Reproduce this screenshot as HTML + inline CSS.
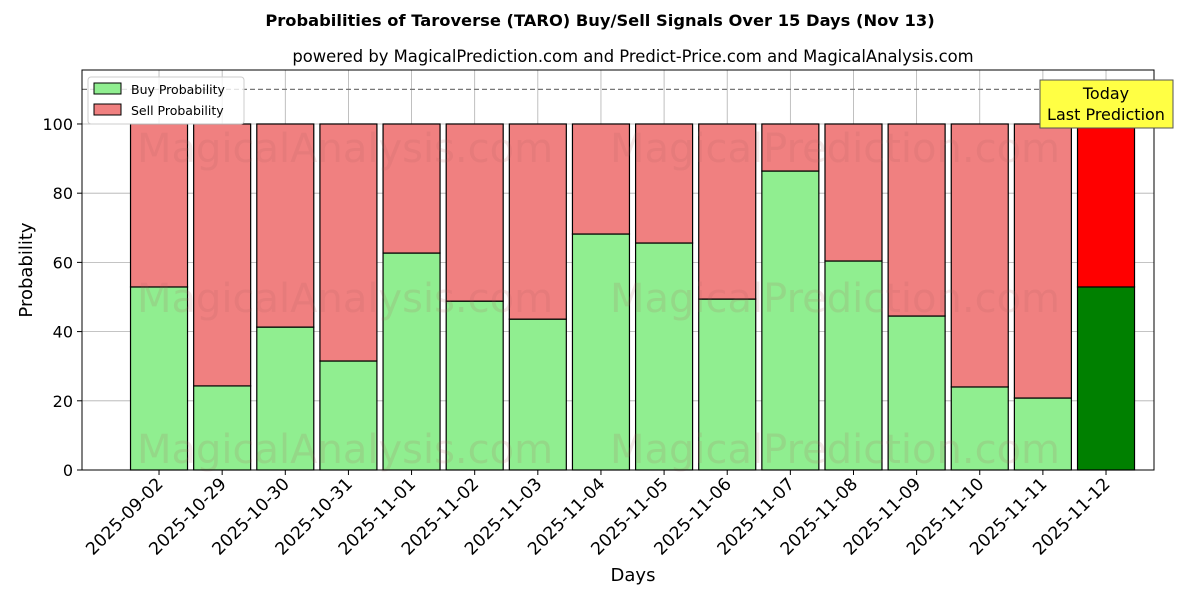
<!DOCTYPE html>
<html><head><meta charset="utf-8"><style>
body{margin:0;background:#fff;font-family:"DejaVu Sans","Liberation Sans",sans-serif}
svg text{font-family:"DejaVu Sans","Liberation Sans",sans-serif}
</style></head><body>
<svg id="c" width="1200" height="600" xmlns="http://www.w3.org/2000/svg"></svg>
<script>
const categories=["2025-09-02","2025-10-29","2025-10-30","2025-10-31","2025-11-01","2025-11-02","2025-11-03","2025-11-04","2025-11-05","2025-11-06","2025-11-07","2025-11-08","2025-11-09","2025-11-10","2025-11-11","2025-11-12"];
const buyValues=[52.9,24.3,41.3,31.5,62.7,48.8,43.6,68.2,65.6,49.4,86.4,60.4,44.5,24.0,20.8,52.9];
const yTicks=[0,20,40,60,80,100];
const NS="http://www.w3.org/2000/svg";
const svg=document.getElementById('c');
const L=82,R=1154,T=70,B=470;
const yMax=115.6;
function y(v){return B-(B-T)*v/yMax;}
function x(i){return L+(i+1.22)*(R-L)/16.98;}
const bw=57;
function el(tag,attrs,parent){const e=document.createElementNS(NS,tag);for(const k in attrs)e.setAttribute(k,attrs[k]);(parent||svg).appendChild(e);return e;}
function txt(s,attrs){const e=el('text',attrs);e.textContent=s;return e;}
// grid
yTicks.forEach(v=>{const g=el('line',{x1:L,x2:R,y1:y(v),y2:y(v),stroke:'#b0b0b0','stroke-width':0.8});

});
categories.forEach((c,i)=>{const g=el('line',{x1:x(i),x2:x(i),y1:T,y2:B,stroke:'#b0b0b0','stroke-width':0.8});

});
// bars
categories.forEach((c,i)=>{const last=i===categories.length-1;const b=buyValues[i];
const r1=el('rect',{x:x(i)-bw/2,y:y(b),width:bw,height:y(0)-y(b),fill:last?'#008000':'#90ee90',stroke:'#000','stroke-width':1.2});


const r2=el('rect',{x:x(i)-bw/2,y:y(100),width:bw,height:y(b)-y(100),fill:last?'#ff0000':'#f08080',stroke:'#000','stroke-width':1.2});


const t=txt(c,{x:0,y:0,'font-size':17.3,'text-anchor':'end',transform:`translate(${x(i)+5},${B+15}) rotate(-45)`,fill:'#000'});


el('line',{x1:x(i),x2:x(i),y1:B,y2:B+5,stroke:'#000'});
});
// watermarks on top
[[345,148],[835,148],[345,298],[835,298],[345,449],[835,449]].forEach((p,k)=>{const t=txt(k%2?'MagicalPrediction.com':'MagicalAnalysis.com',{x:p[0],y:p[1]+14,'font-size':40,fill:'#b06060','fill-opacity':0.15,'text-anchor':'middle'});

});
// dashed line
const d=el('line',{x1:L,x2:R,y1:y(110),y2:y(110),stroke:'#777','stroke-width':1.3,'stroke-dasharray':'5,3'});


// y ticks
yTicks.forEach(v=>{el('line',{x1:L-5,x2:L,y1:y(v),y2:y(v),stroke:'#000'});
const t=txt(String(v),{x:L-9,y:y(v)+6,'font-size':16,'text-anchor':'end'});

});
// frame
const f=el('rect',{x:L,y:T,width:R-L,height:B-T,fill:'none',stroke:'#000','stroke-width':1});


// titles
let t;
t=txt('Probabilities of Taroverse (TARO) Buy/Sell Signals Over 15 Days (Nov 13)',{x:600,y:26,'font-size':16.3,'font-weight':'bold','text-anchor':'middle'});


t=txt('powered by MagicalPrediction.com and Predict-Price.com and MagicalAnalysis.com',{x:633,y:62,'font-size':16.4,'text-anchor':'middle'});


t=txt('Days',{x:633,y:581,'font-size':18,'text-anchor':'middle'});


t=txt('Probability',{x:0,y:0,'font-size':18,'text-anchor':'middle',transform:'translate(32,270) rotate(-90)'});


// today box
const tb=el('rect',{x:1040,y:80,width:133,height:48,fill:'#ffff44',stroke:'#555','stroke-width':1});


txt('Today',{x:1106,y:99,'font-size':16,'text-anchor':'middle'});
txt('Last Prediction',{x:1106,y:120,'font-size':16,'text-anchor':'middle'});
// legend
const lg=el('rect',{x:88,y:77,width:156,height:47,fill:'#fff','fill-opacity':0.8,stroke:'#ccc',rx:3});


el('rect',{x:94,y:83,width:27,height:11,fill:'#90ee90',stroke:'#000'});
el('rect',{x:94,y:104,width:27,height:11,fill:'#f08080',stroke:'#000'});
t=txt('Buy Probability',{x:131,y:94,'font-size':12.5});


t=txt('Sell Probability',{x:131,y:115,'font-size':12.5});


</script>
</body></html>
